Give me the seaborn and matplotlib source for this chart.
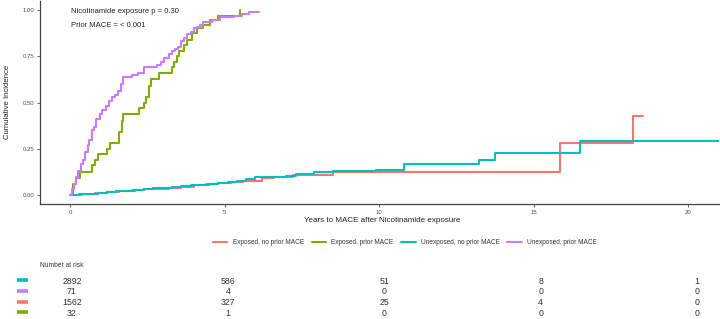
import numpy as np
import pandas as pd
import matplotlib
matplotlib.use("Agg")
import matplotlib.pyplot as plt
import seaborn as sns

# ---------------- data ----------------
groups = ["Exposed, no prior MACE", "Exposed, prior MACE",
          "Unexposed, no prior MACE", "Unexposed, prior MACE"]
colors = ["#F8766D", "#7CAE00", "#00BFC4", "#C77CFF"]

t_exp_noprior = [0, 0.4, 0.8, 1.2, 1.6, 2.0, 2.4, 2.8, 3.2, 3.6, 4.0, 4.4, 4.8, 5.2,
                 5.6, 6.2, 6.6, 7.2, 8.5, 15.86, 18.23, 18.55]
y_exp_noprior = [0, 0.005, 0.01, 0.015, 0.02, 0.025, 0.03, 0.035, 0.04, 0.046, 0.052,
                 0.058, 0.064, 0.07, 0.078, 0.09, 0.1, 0.108, 0.126, 0.279, 0.428, 0.428]

t_exp_prior = [0, 0.1, 0.2, 0.32, 0.72, 0.8, 0.9, 1.2, 1.28, 1.6, 1.68, 1.72, 2.22, 2.38,
               2.45, 2.55, 2.62, 2.88, 3.3, 3.38, 3.45, 3.52, 3.68, 3.8, 3.94, 4.1, 4.3,
               4.53, 4.8, 5.5, 5.5]
y_exp_prior = [0, 0.06, 0.09, 0.125, 0.16, 0.19, 0.22, 0.25, 0.28, 0.34, 0.40, 0.44, 0.47,
               0.50, 0.53, 0.59, 0.625, 0.66, 0.69, 0.72, 0.75, 0.78, 0.81, 0.84, 0.875,
               0.90, 0.92, 0.945, 0.97, 1.0, 1.0]

t_unexp_noprior = [0, 0.3, 0.6, 0.9, 1.2, 1.5, 1.8, 2.1, 2.4, 2.7, 3.0, 3.3, 3.6, 3.9,
                   4.2, 4.5, 4.8, 5.1, 5.4, 5.7, 6.0, 6.5, 7.0, 7.3, 7.9, 8.5, 9.9,
                   10.8, 13.25, 13.75, 16.5, 21.0]
y_unexp_noprior = [0, 0.004, 0.008, 0.012, 0.016, 0.02, 0.024, 0.028, 0.032, 0.036,
                   0.04, 0.044, 0.048, 0.052, 0.056, 0.06, 0.065, 0.07, 0.075, 0.085,
                   0.095, 0.1, 0.105, 0.115, 0.122, 0.128, 0.135, 0.167, 0.189, 0.228,
                   0.291, 0.291]

t_unexp_prior = [0, 0.05, 0.12, 0.2, 0.27, 0.35, 0.42, 0.5, 0.57, 0.62, 0.7, 0.78, 0.85,
                 0.97, 1.05, 1.15, 1.25, 1.35, 1.45, 1.55, 1.65, 1.72, 2.0, 2.2, 2.4,
                 2.8, 2.95, 3.05, 3.2, 3.3, 3.4, 3.5, 3.6, 3.7, 3.8, 3.9, 4.0, 4.1, 4.2,
                 4.3, 4.6, 4.85, 5.3, 5.55, 5.8, 6.1]
y_unexp_prior = [0.0, 0.03, 0.06, 0.10, 0.13, 0.17, 0.19, 0.23, 0.27, 0.30, 0.35, 0.37,
                 0.41, 0.44, 0.46, 0.48, 0.51, 0.53, 0.54, 0.56, 0.60, 0.64, 0.65, 0.66,
                 0.69, 0.70, 0.72, 0.74, 0.76, 0.78, 0.79, 0.80, 0.83, 0.85, 0.87, 0.88,
                 0.90, 0.91, 0.92, 0.935, 0.945, 0.96, 0.97, 0.98, 0.99, 0.99]

x_ticks = [0, 5, 10, 15, 20]
y_ticks = [0.00, 0.25, 0.50, 0.75, 1.00]

risk_times = [0, 5, 10, 15, 20]
risk_groups = ["Unexposed, no prior MACE", "Unexposed, prior MACE",
               "Exposed, no prior MACE", "Exposed, prior MACE"]
risk_unexp_noprior = [2892, 586, 51, 8, 1]
risk_unexp_prior = [71, 4, 0, 0, 0]
risk_exp_noprior = [1562, 327, 25, 4, 0]
risk_exp_prior = [32, 1, 0, 0, 0]

# ---------------- build table ----------------
series = {
    groups[0]: (t_exp_noprior, y_exp_noprior),
    groups[1]: (t_exp_prior, y_exp_prior),
    groups[2]: (t_unexp_noprior, y_unexp_noprior),
    groups[3]: (t_unexp_prior, y_unexp_prior),
}
frames = []
for g, (t, y) in series.items():
    frames.append(pd.DataFrame({"time": t, "cuminc": y, "group": g}))
df = pd.concat(frames, ignore_index=True)

# ---------------- plot ----------------
sns.set_theme(style="white")
plt.rcParams["font.family"] = ["Liberation Sans", "DejaVu Sans"]

W, H = 720, 319
fig = plt.figure(figsize=(W / 100, H / 100), dpi=100)
ax = fig.add_axes([40 / W, 1 - 204.3 / H, 679 / W, 203.6 / H])

palette = dict(zip(groups, colors))
sns.lineplot(data=df, x="time", y="cuminc", hue="group", hue_order=groups,
             palette=palette, estimator=None, units="group", sort=False,
             drawstyle="steps-post", lw=1.5, ax=ax, legend=True)

ax.set_xlim(-0.97, 21.0)
ax.set_ylim(-0.05, 1.05)
ax.set_xticks(x_ticks)
ax.set_xticklabels([str(v) for v in x_ticks])
ax.set_yticks(y_ticks)
ax.set_yticklabels([f"{v:.2f}" for v in y_ticks])
ax.tick_params(axis="both", labelsize=4.3, colors="#4D4D4D", length=2, width=0.6,
               pad=2, bottom=True, left=True)
for s in ["top", "right"]:
    ax.spines[s].set_visible(False)
for s in ["left", "bottom"]:
    ax.spines[s].set_color("#444444")
    ax.spines[s].set_linewidth(0.9)
ax.set_xlabel("")
ax.set_ylabel("")

ax.text(0.03, 0.994, "Nicotinamide exposure p = 0.30", ha="left", va="center",
        fontsize=5.5, color="#222222")
ax.text(0.03, 0.918, "Prior MACE = < 0.001", ha="left", va="center",
        fontsize=5.5, color="#222222")

fig.text(8 / W, 1 - 102 / H, "Cumulative Incidence", rotation=90, ha="center",
         va="center", fontsize=5.6, color="#222222")
fig.text(382 / W, 1 - 220 / H, "Years to MACE after Nicotinamide exposure",
         ha="center", va="center", fontsize=5.8, color="#222222")

handles, labels = ax.get_legend_handles_labels()
ax.get_legend().remove()
fig.legend(handles, labels, loc="center", bbox_to_anchor=(405 / W, 1 - 243 / H),
           ncol=4, frameon=False, fontsize=4.7, handlelength=2.2,
           columnspacing=1.2, handletextpad=0.8, labelcolor="#333333")

# ---------------- risk table ----------------
ax2 = fig.add_axes([0, 0, 1, 1 - 258 / H])
ax2.set_xlim(-72 / 31.25, (720 - 72) / 31.25)
ax2.set_ylim(0, 1)
ax2.axis("off")
fig.text(40 / W, 1 - 265.5 / H, "Number at risk", ha="left", va="center",
         fontsize=4.8, color="#333333")
risk_rows = [risk_unexp_noprior, risk_unexp_prior, risk_exp_noprior, risk_exp_prior]
row_y = [281, 291.7, 302.7, 313.3]
for g, vals, ry in zip(risk_groups, risk_rows, row_y):
    yf = 1 - ry / H
    ya = yf / (1 - 258 / H)
    fig.add_artist(plt.Line2D([17 / W, 28 / W], [yf + 1 / H, yf + 1 / H],
                              color=palette[g], lw=2.6, solid_capstyle="butt"))
    for t, v in zip(risk_times, vals):
        ax2.text(t, ya, str(v), ha="center", va="center", fontsize=6.3,
                 color="#333333")

fig.savefig("out.png", dpi=100)
